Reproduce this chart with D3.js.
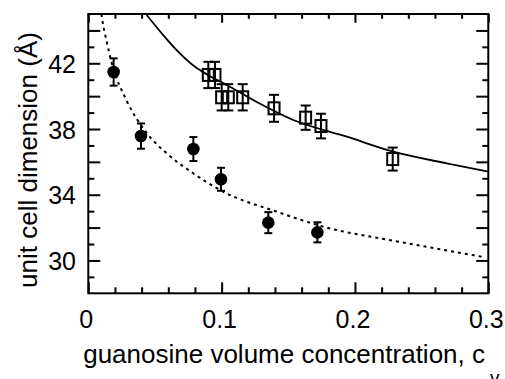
<!DOCTYPE html>
<html>
<head>
<meta charset="utf-8">
<script src="https://cdn.jsdelivr.net/npm/d3@7"></script>
<style>
    body { margin: 0; background: #fff; }
    text { font-family: "Liberation Sans", Arial, sans-serif; fill: #000; }
</style>
</head>
<body>
<div id="chart"></div>
<script>
// Filled circles
const circleX = [0.019, 0.0395, 0.0788, 0.0995, 0.135, 0.1718];
const circleY = [41.47, 37.57, 36.78, 34.94, 32.30, 31.71];
const circleErr = [0.83, 0.77, 0.73, 0.70, 0.64, 0.61];

// Open squares
const squareX = [0.090, 0.095, 0.100, 0.105, 0.1158, 0.1393, 0.163, 0.1745, 0.2283];
const squareY = [41.29, 41.29, 39.93, 39.93, 39.93, 39.26, 38.69, 38.18, 36.17];
const squareErr = [0.80, 0.80, 0.80, 0.80, 0.80, 0.82, 0.74, 0.75, 0.70];

// Fit curves
const solidX = [0.0438, 0.055, 0.065, 0.080, 0.0898, 0.1038, 0.126, 0.1538, 0.194, 0.2288, 0.2688, 0.300];
const solidY = [44.94, 43.83, 42.91, 41.79, 41.29, 40.68, 39.66, 38.55, 37.53, 36.62, 35.91, 35.41];
const dottedX = [0.0098, 0.0105, 0.0138, 0.0175, 0.0288, 0.0438, 0.0588, 0.0788, 0.1013, 0.1413, 0.1788, 0.2288, 0.295];
const dottedY = [45.0, 44.63, 43.31, 42.05, 39.72, 37.76, 36.52, 35.30, 34.18, 32.97, 32.0, 31.2, 30.23];

// Ticks
const xMajor = [0, 0.1, 0.2, 0.3];
const xMinor = [0.02, 0.04, 0.06, 0.08, 0.12, 0.14, 0.16, 0.18, 0.22, 0.24, 0.26, 0.28];
const yLabels = [30, 34, 38, 42];
const yLong = [30, 32, 34, 36, 38, 40, 42, 44];
const yShort = [29, 31, 33, 35, 37, 39, 41, 43];

var svgWidth = 505;
var svgHeight = 379;

var svg = d3.select('#chart')
    .append('svg')
    .attr('width', svgWidth)
    .attr('height', svgHeight);

// Plot box
var plotLeft = 88.3, plotRight = 488.3, plotTop = 14, plotBottom = 293.3;

var xScale = d3.scaleLinear().domain([0, 0.3]).range([plotLeft, plotRight]);
var yScale = d3.scaleLinear().domain([28, 45]).range([plotBottom, plotTop]);

svg.append('clipPath').attr('id', 'plot-clip')
    .append('rect')
    .attr('x', plotLeft).attr('y', plotTop)
    .attr('width', plotRight - plotLeft).attr('height', plotBottom - plotTop);

// Axes (ticks pointing inward, mirrored on top/right)
function drawX(values, len) {
    svg.append('g')
        .attr('transform', 'translate(0,' + plotBottom + ')')
        .call(d3.axisBottom(xScale).tickValues(values).tickSize(-len).tickFormat(''))
        .call(g => g.select('.domain').remove());
    svg.append('g')
        .attr('transform', 'translate(0,' + plotTop + ')')
        .call(d3.axisTop(xScale).tickValues(values).tickSize(-len * 0.8).tickFormat(''))
        .call(g => g.select('.domain').remove());
}
function drawY(values, len) {
    svg.append('g')
        .attr('transform', 'translate(' + plotLeft + ',0)')
        .call(d3.axisLeft(yScale).tickValues(values).tickSize(-len).tickFormat(''))
        .call(g => g.select('.domain').remove());
    svg.append('g')
        .attr('transform', 'translate(' + plotRight + ',0)')
        .call(d3.axisRight(yScale).tickValues(values).tickSize(-len).tickFormat(''))
        .call(g => g.select('.domain').remove());
}
drawX(xMajor, 11);
drawX(xMinor, 6);
drawY(yLong, 12);
drawY(yShort, 6);
svg.selectAll('.tick line').attr('stroke', '#000').attr('stroke-width', 2);

// Frame
svg.append('rect')
    .attr('x', plotLeft).attr('y', plotTop)
    .attr('width', plotRight - plotLeft).attr('height', plotBottom - plotTop)
    .attr('fill', 'none')
    .attr('stroke', '#000')
    .attr('stroke-width', 2);

// Tick labels
svg.append('g').selectAll('text')
    .data(xMajor)
    .join('text')
    .attr('x', d => xScale(d) - 2)
    .attr('y', 328)
    .attr('text-anchor', 'middle')
    .style('font-size', '25px')
    .text(d => d === 0 ? '0' : d3.format('.1f')(d));

svg.append('g').selectAll('text')
    .data(yLabels)
    .join('text')
    .attr('x', 76)
    .attr('y', d => yScale(d) + 9.5)
    .attr('text-anchor', 'end')
    .style('font-size', '25px')
    .text(d => d);

// Axis titles
svg.append('text')
    .attr('x', 485)
    .attr('y', 363)
    .attr('text-anchor', 'end')
    .style('font-size', '26px')
    .text('guanosine volume concentration, c');
svg.append('text')
    .attr('x', 490)
    .attr('y', 384)
    .style('font-size', '19px')
    .text('v');

svg.append('text')
    .attr('transform', 'rotate(-90)')
    .attr('x', -160)
    .attr('y', 37)
    .attr('text-anchor', 'middle')
    .style('font-size', '26px')
    .text('unit cell dimension (Å)');

// Curves
var line = d3.line()
    .x(d => xScale(d[0]))
    .y(d => yScale(d[1]))
    .curve(d3.curveMonotoneX);

svg.append('path')
    .attr('clip-path', 'url(#plot-clip)')
    .attr('d', line(d3.zip(solidX, solidY)))
    .attr('fill', 'none')
    .attr('stroke', '#000')
    .attr('stroke-width', 1.8);

svg.append('path')
    .attr('clip-path', 'url(#plot-clip)')
    .attr('d', line(d3.zip(dottedX, dottedY)))
    .attr('fill', 'none')
    .attr('stroke', '#000')
    .attr('stroke-width', 2)
    .attr('stroke-dasharray', '3,4');

// Error bars
function errorBars(xs, ys, es, cap) {
    var data = d3.zip(xs, ys, es);
    var g = svg.append('g').attr('stroke', '#000').attr('stroke-width', 2);
    g.selectAll('.v').data(data).join('line')
        .attr('x1', d => xScale(d[0])).attr('x2', d => xScale(d[0]))
        .attr('y1', d => yScale(d[1] + d[2])).attr('y2', d => yScale(d[1] - d[2]));
    g.selectAll('.t').data(data).join('line')
        .attr('x1', d => xScale(d[0]) - cap).attr('x2', d => xScale(d[0]) + cap)
        .attr('y1', d => yScale(d[1] + d[2])).attr('y2', d => yScale(d[1] + d[2]));
    g.selectAll('.b').data(data).join('line')
        .attr('x1', d => xScale(d[0]) - cap).attr('x2', d => xScale(d[0]) + cap)
        .attr('y1', d => yScale(d[1] - d[2])).attr('y2', d => yScale(d[1] - d[2]));
}
errorBars(circleX, circleY, circleErr, 4);
errorBars(squareX, squareY, squareErr, 5);

// Markers
svg.append('g').selectAll('circle')
    .data(d3.zip(circleX, circleY))
    .join('circle')
    .attr('cx', d => xScale(d[0]))
    .attr('cy', d => yScale(d[1]))
    .attr('r', 6.3)
    .attr('fill', '#000');

svg.append('g').selectAll('rect')
    .data(d3.zip(squareX, squareY))
    .join('rect')
    .attr('x', d => xScale(d[0]) - 5.5)
    .attr('y', d => yScale(d[1]) - 6)
    .attr('width', 11)
    .attr('height', 12)
    .attr('fill', 'none')
    .attr('stroke', '#000')
    .attr('stroke-width', 2);
</script>
</body>
</html>
